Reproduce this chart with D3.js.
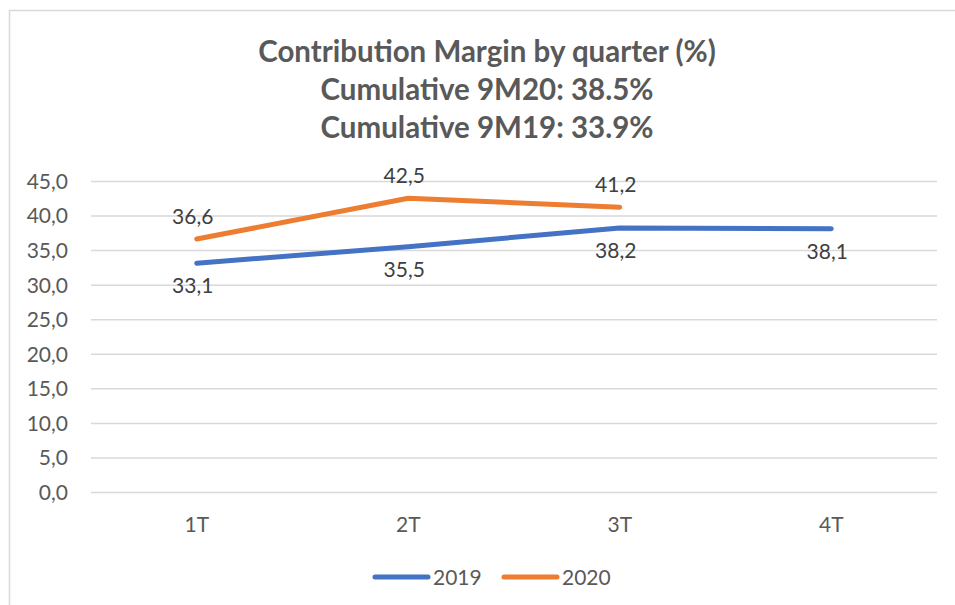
<!DOCTYPE html>
<html><head><meta charset="utf-8">
<script src="https://cdn.jsdelivr.net/npm/d3@7"></script>
<style>html,body{margin:0;padding:0;background:#fff;} svg{display:block;}</style>
</head><body>
<svg id="chart" width="955" height="605"></svg>
<script>
const categories = ["1T", "2T", "3T", "4T"];
const series2019 = [33.1, 35.5, 38.2, 38.1];
const series2020 = [36.6, 42.5, 41.2];
const seriesNames = ["2019", "2020"];
const yTicks = [0, 5, 10, 15, 20, 25, 30, 35, 40, 45];
const titleLines = ["Contribution Margin by quarter (%)", "Cumulative 9M20: 38.5%", "Cumulative 9M19: 33.9%"];

const colors = {"2019": "#4472C4", "2020": "#ED7D31"};
const font = "Lato, 'Open Sans', sans-serif";
const svg = d3.select("#chart");

// chart border (left & top visible)
svg.append("path").attr("d", "M9.5,605 L9.5,10.5 L955,10.5")
  .attr("fill", "none").attr("stroke", "#D9D9D9").attr("stroke-width", 1.5);

// title
const title = svg.append("text").attr("text-anchor", "middle")
  .attr("font-family", font).attr("font-weight", 700).attr("font-size", 29.5).attr("fill", "#595959");
titleLines.forEach((t, i) => {
  title.append("tspan").attr("x", 487).attr("y", 62 + i * 38).text(t);
});

const x = d3.scaleBand().domain(categories).range([91, 937]);
const y = d3.scaleLinear().domain([0, 45]).range([492, 181]);

// gridlines
const yAxis = d3.axisLeft(y).tickValues(yTicks).tickSize(-(937 - 91))
  .tickFormat(d => d3.format(".1f")(d).replace(".", ","));
const gy = svg.append("g").attr("transform", "translate(91,0)").call(yAxis);
gy.select(".domain").remove();
gy.selectAll(".tick line").attr("stroke", "#D9D9D9").attr("stroke-width", 1.5);
gy.selectAll(".tick text").attr("x", -23).attr("dy", "0.35em")
  .attr("font-family", font).attr("font-size", 21).attr("fill", "#595959");

// x axis labels
const xAxis = d3.axisBottom(x).tickSize(0);
const gx = svg.append("g").attr("transform", "translate(0,492)").call(xAxis);
gx.select(".domain").remove();
gx.selectAll(".tick text").attr("y", 40).attr("dy", 0)
  .attr("font-family", font).attr("font-size", 21).attr("fill", "#595959");

const cx = c => x(c) + x.bandwidth() / 2;
const line = d3.line().x((d, i) => cx(categories[i])).y(d => y(d));

const data = [
  {name: "2019", values: series2019, above: false},
  {name: "2020", values: series2020, above: true}
];

data.forEach(s => {
  svg.append("path").datum(s.values).attr("d", line)
    .attr("fill", "none").attr("stroke", colors[s.name]).attr("stroke-width", 5)
    .attr("stroke-linecap", "round").attr("stroke-linejoin", "round");
});

data.forEach(s => {
  svg.append("g").selectAll("text").data(s.values).join("text")
    .attr("x", (d, i) => cx(categories[i]) - 4)
    .attr("y", d => y(d) + (s.above ? -15 : 30))
    .attr("text-anchor", "middle")
    .attr("font-family", font).attr("font-size", 21).attr("fill", "#404040")
    .text(d => d3.format(".1f")(d).replace(".", ","));
});

// legend
const legend = svg.append("g");
const legendX = [373, 502];
seriesNames.forEach((n, i) => {
  legend.append("line").attr("x1", legendX[i] + 2).attr("x2", legendX[i] + 55)
    .attr("y1", 577).attr("y2", 577)
    .attr("stroke", colors[n]).attr("stroke-width", 5).attr("stroke-linecap", "round");
  legend.append("text").attr("x", legendX[i] + 60).attr("y", 585)
    .attr("font-family", font).attr("font-size", 21).attr("fill", "#595959").text(n);
});
</script>
</body></html>
